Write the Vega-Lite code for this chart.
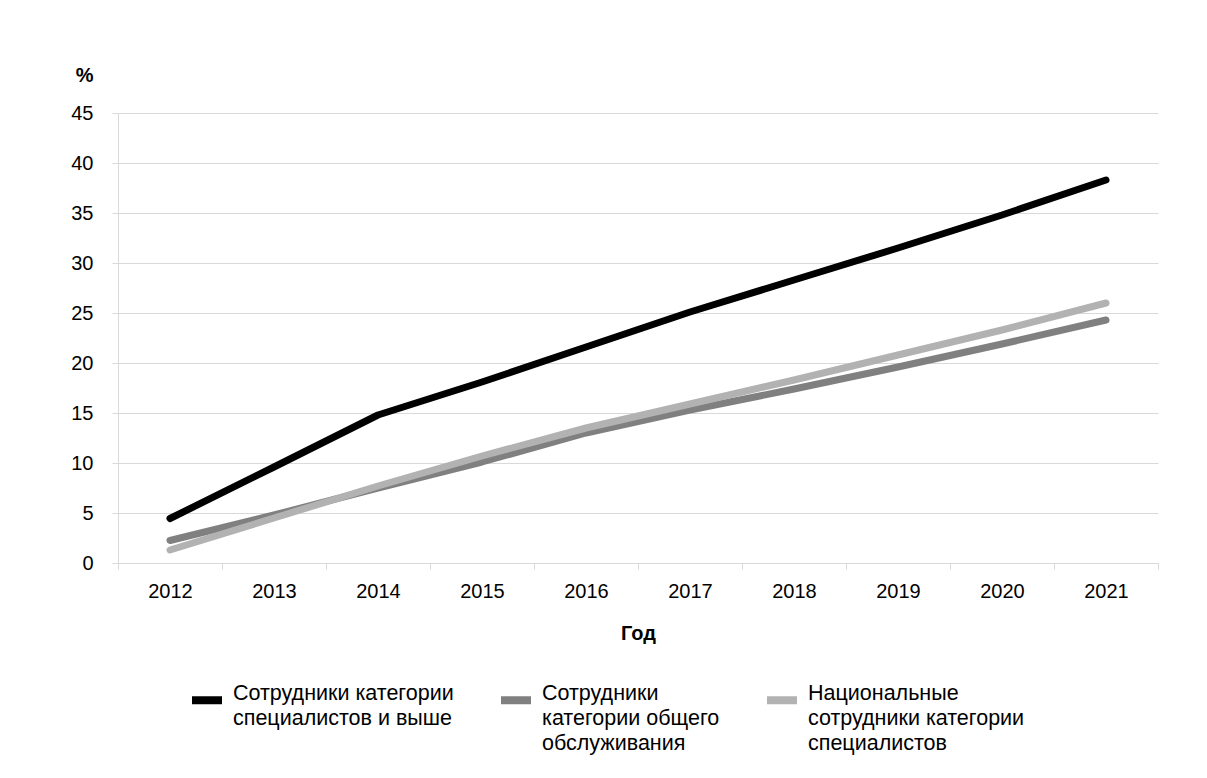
{
  "$schema": "https://vega.github.io/schema/vega-lite/v6.json",
  "width": 1040,
  "height": 450,
  "autosize": {"type": "none"},
  "padding": {"left": 118, "top": 113, "right": 49, "bottom": 215},
  "background": "white",
  "config": {
    "view": {"stroke": null},
    "font": "Liberation Sans",
    "style": {"guide-label": {"lineHeight": 25}}
  },
  "data": {
    "values": [
      {"year": "2012", "series": "Сотрудники категории специалистов и выше", "value": 4.45},
      {"year": "2013", "series": "Сотрудники категории специалистов и выше", "value": 9.6},
      {"year": "2014", "series": "Сотрудники категории специалистов и выше", "value": 14.8},
      {"year": "2015", "series": "Сотрудники категории специалистов и выше", "value": 18.1},
      {"year": "2016", "series": "Сотрудники категории специалистов и выше", "value": 21.6},
      {"year": "2017", "series": "Сотрудники категории специалистов и выше", "value": 25.1},
      {"year": "2018", "series": "Сотрудники категории специалистов и выше", "value": 28.3},
      {"year": "2019", "series": "Сотрудники категории специалистов и выше", "value": 31.5},
      {"year": "2020", "series": "Сотрудники категории специалистов и выше", "value": 34.8},
      {"year": "2021", "series": "Сотрудники категории специалистов и выше", "value": 38.3},
      {"year": "2012", "series": "Сотрудники категории общего обслуживания", "value": 2.25},
      {"year": "2013", "series": "Сотрудники категории общего обслуживания", "value": 4.8},
      {"year": "2014", "series": "Сотрудники категории общего обслуживания", "value": 7.5},
      {"year": "2015", "series": "Сотрудники категории общего обслуживания", "value": 10.1},
      {"year": "2016", "series": "Сотрудники категории общего обслуживания", "value": 13.0},
      {"year": "2017", "series": "Сотрудники категории общего обслуживания", "value": 15.3},
      {"year": "2018", "series": "Сотрудники категории общего обслуживания", "value": 17.4},
      {"year": "2019", "series": "Сотрудники категории общего обслуживания", "value": 19.6},
      {"year": "2020", "series": "Сотрудники категории общего обслуживания", "value": 21.9},
      {"year": "2021", "series": "Сотрудники категории общего обслуживания", "value": 24.3},
      {"year": "2012", "series": "Национальные сотрудники категории специалистов", "value": 1.3},
      {"year": "2013", "series": "Национальные сотрудники категории специалистов", "value": 4.5},
      {"year": "2014", "series": "Национальные сотрудники категории специалистов", "value": 7.7},
      {"year": "2015", "series": "Национальные сотрудники категории специалистов", "value": 10.7},
      {"year": "2016", "series": "Национальные сотрудники категории специалистов", "value": 13.5},
      {"year": "2017", "series": "Национальные сотрудники категории специалистов", "value": 15.9},
      {"year": "2018", "series": "Национальные сотрудники категории специалистов", "value": 18.3},
      {"year": "2019", "series": "Национальные сотрудники категории специалистов", "value": 20.8},
      {"year": "2020", "series": "Национальные сотрудники категории специалистов", "value": 23.3},
      {"year": "2021", "series": "Национальные сотрудники категории специалистов", "value": 26.0}
    ]
  },
  "mark": {"type": "line", "strokeWidth": 7, "strokeCap": "round", "strokeJoin": "round"},
  "encoding": {
    "x": {
      "field": "year",
      "type": "ordinal",
      "bandPosition": 0.5,
      "scale": {"type": "band", "paddingInner": 0, "paddingOuter": 0},
      "axis": {
        "title": "Год",
        "titleFontWeight": "bold",
        "titleFontSize": 20,
        "titleColor": "black",
        "titleY": 70,
        "titleBaseline": "middle",
        "labelAngle": 0,
        "labelFontSize": 20,
        "labelColor": "black",
        "labelPadding": 12,
        "tickBand": "extent",
        "tickSize": 6,
        "tickColor": "#d9d9d9",
        "domainColor": "#d9d9d9",
        "grid": false
      }
    },
    "y": {
      "field": "value",
      "type": "quantitative",
      "scale": {"domain": [0, 45], "nice": false},
      "axis": {
        "values": [0, 5, 10, 15, 20, 25, 30, 35, 40, 45],
        "title": "%",
        "titleAngle": 0,
        "titleFontWeight": "bold",
        "titleFontSize": 20,
        "titleColor": "black",
        "titleAlign": "right",
        "titleX": -25,
        "titleY": -38,
        "titleBaseline": "middle",
        "labelFontSize": 20,
        "labelColor": "black",
        "labelPadding": 19,
        "tickSize": 6,
        "tickColor": "#d9d9d9",
        "domainColor": "#d9d9d9",
        "gridColor": "#d9d9d9"
      }
    },
    "color": {
      "field": "series",
      "type": "nominal",
      "sort": null,
      "scale": {
        "domain": ["Сотрудники категории специалистов и выше", "Сотрудники категории общего обслуживания", "Национальные сотрудники категории специалистов"],
        "range": ["#000000", "#808080", "#b2b2b2"]
      },
      "legend": {
        "orient": "none",
        "legendX": 70,
        "legendY": 568,
        "direction": "horizontal",
        "columns": 3,
        "title": null,
        "padding": 0,
        "gridAlign": "each",
        "columnPadding": 31,
        "symbolType": "stroke",
        "symbolSize": 900,
        "symbolStrokeWidth": 8,
        "labelFontSize": 21.5,
        "labelColor": "black",
        "labelBaseline": "alphabetic",
        "labelOffset": 7,
        "labelLimit": 400,
        "labelExpr": "datum.label == 'Сотрудники категории специалистов и выше' ? ['Сотрудники категории', 'специалистов и выше', ' '] : datum.label == 'Сотрудники категории общего обслуживания' ? ['Сотрудники', 'категории общего', 'обслуживания'] : ['Национальные', 'сотрудники категории', 'специалистов']"
      }
    }
  }
}
